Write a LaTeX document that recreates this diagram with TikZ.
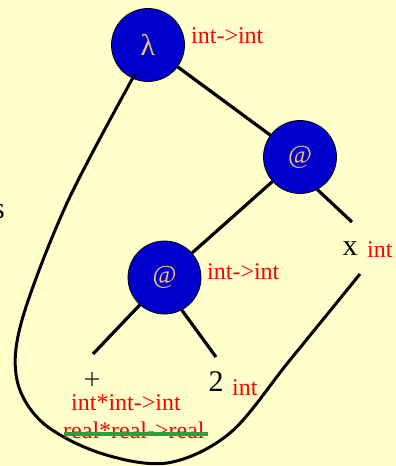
\documentclass[tikz,border=0pt]{standalone}
\usepackage{fontspec}
\setmainfont{Liberation Serif}
\definecolor{paper}{HTML}{FFFFCC}
\definecolor{nodeblue}{HTML}{0000CC}
\definecolor{glyph}{HTML}{F2C27A}
\definecolor{typered}{HTML}{FF0000}
\definecolor{strike}{HTML}{2E9E3A}
\begin{document}
\begin{tikzpicture}[x=1pt,y=-1pt,
  opnode/.style={circle,draw=black,line width=0.8pt,fill=nodeblue,minimum size=73pt,inner sep=0pt,text=glyph},
  leaf/.style={inner sep=0pt,text=black,font=\fontsize{30}{32}\selectfont},
  typelbl/.style={inner sep=0pt,anchor=west,text=typered,font=\fontsize{24}{26}\selectfont},
  edge/.style={line width=3.2pt,black}]
  % canvas
  \fill[paper] (0,0) rectangle (396,466);
  \useasboundingbox (0,0) rectangle (396,466);

  % operator nodes
  \node[opnode,font=\fontsize{30}{32}\selectfont] (lam) at (148,45) {λ};
  \node[opnode,font=\fontsize{26}{28}\selectfont] (app1) at (300,157) {@};
  \node[opnode,font=\fontsize{26}{28}\selectfont] (app2) at (164.5,277.5) {@};

  % leaves
  \node[leaf] (x) at (350,249) {x};
  \node[leaf,text=black!80] (plus) at (92,381) {+};
  \node[leaf] (two) at (216,382) {2};
  \node[leaf,anchor=east] (cut) at (5,212) {s};

  % end points of the edges that stop short of the leaves
  \coordinate (xtop) at (352,222);
  \coordinate (xbot) at (360,274);
  \coordinate (plustop) at (93,354);
  \coordinate (twotop) at (216,357);
  \coordinate (lamfoot) at (135,74);

  % tree edges
  \draw[edge] (lam) -- (app1);
  \draw[edge] (app1) -- (app2);
  \draw[edge] (app1.-62) -- (xtop);
  \draw[edge] (app2.-132) -- (plustop);
  \draw[edge] (app2.-62) -- (twotop);

  % scope curve from the binder round the body to x
  \draw[edge,line width=3pt] plot[smooth,tension=0.55] coordinates {
    (lamfoot) (67,203) (22,320) (17,380) (43,423) (100,453) (167,463)
    (230,433) (290,360) (xbot)};

  % type annotations
  \node[typelbl] (tlam) at (191,36) {int->int};
  \node[typelbl] (tapp2) at (207,272) {int->int};
  \node[typelbl] (tx) at (367,250) {int};
  \node[typelbl] (ttwo) at (232,388) {int};
  \node[typelbl] (tplus1) at (71,403) {int*int->int};
  \node[typelbl] (tplus2) at (63,430) {real*real->real};
  \coordinate (s1) at (64,434);
  \coordinate (s2) at ([xshift=3pt]tplus2.east |- s1);
  \draw[strike,line width=4pt] (s1) -- (s2);
\end{tikzpicture}
\end{document}
